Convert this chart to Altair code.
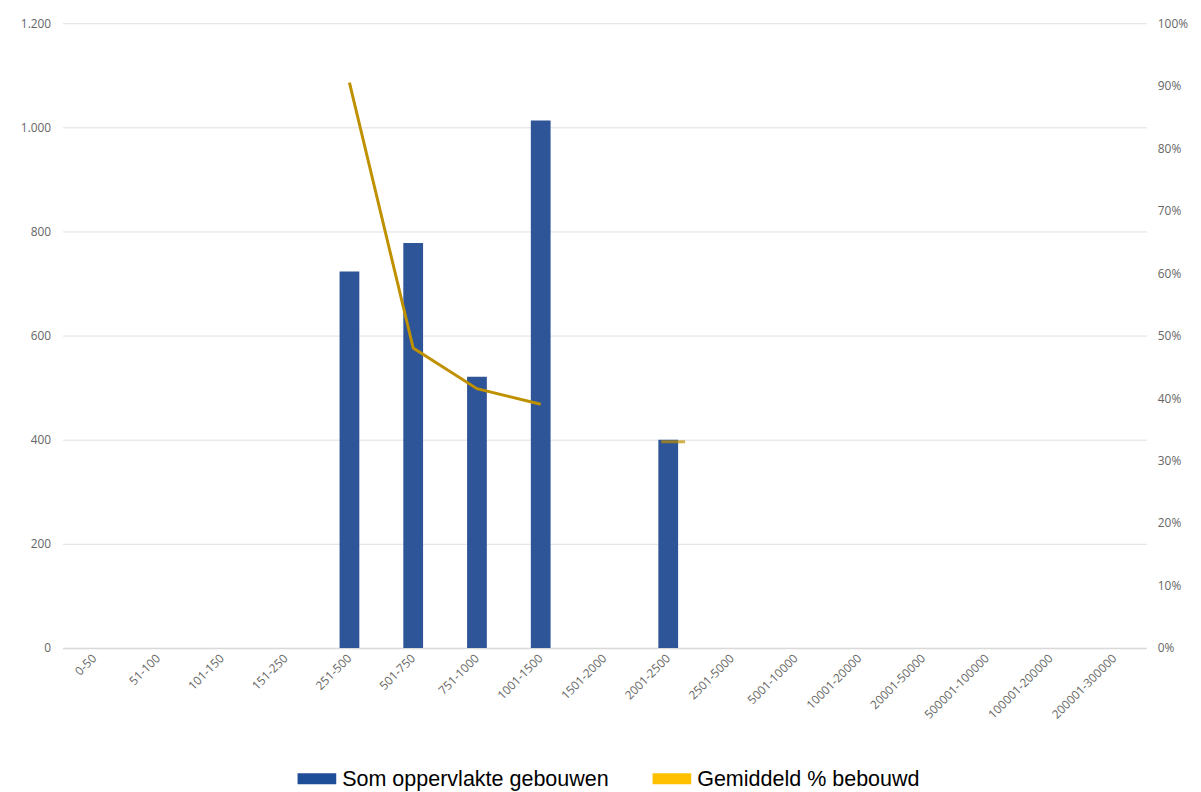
import altair as alt
import pandas as pd

categories = ["0-50", "51-100", "101-150", "151-250", "251-500", "501-750", "751-1000",
              "1001-1500", "1501-2000", "2001-2500", "2501-5000", "5001-10000",
              "10001-20000", "20001-50000", "500001-100000", "100001-200000", "200001-300000"]
area = [None, None, None, None, 723, 778, 521, 1013, None, 400, None, None, None, None, None, None, None]
pct = [None, None, None, None, 0.905, 0.48, 0.415, 0.39, None, 0.33, None, None, None, None, None, None, None]

series_names = ["Som oppervlakte gebouwen", "Gemiddeld % bebouwd"]

bars = pd.DataFrame({"cat": categories, "area": area})
bars_nn = bars.dropna(subset=["area"])

seg, segs = 0, []
prev_none = True
for v in pct:
    if v is None:
        prev_none = True
        segs.append(None)
    else:
        if prev_none:
            seg += 1
        prev_none = False
        segs.append(seg)
line = pd.DataFrame({"cat": categories, "pct": pct, "seg": segs}).dropna(subset=["pct"])
counts = line["seg"].value_counts()
line_multi = line[line["seg"].map(counts) > 1]
line_single = line[line["seg"].map(counts) == 1]

FONT = "Open Sans"
LBL = "#666666"
FS = 12

xenc = alt.X("cat:N", sort=categories, scale=alt.Scale(domain=categories, paddingInner=0.69, paddingOuter=0.345),
             axis=alt.Axis(title=None, labelAngle=-45, labelAlign="right", labelBaseline="middle",
                           labelFont=FONT, labelFontSize=FS, labelColor=LBL, ticks=False,
                           domainColor="#d9d9d9", domainWidth=1.5, labelPadding=8, labelOverlap=False))

bar_layer = alt.Chart(bars_nn).mark_bar(color="#2E5597").encode(
    x=xenc,
    y=alt.Y("area:Q", scale=alt.Scale(domain=[0, 1200]),
            axis=alt.Axis(title=None, values=[0, 200, 400, 600, 800, 1000, 1200],
                          labelExpr="replace(format(datum.value, ','), ',', '.')",
                          labelFont=FONT, labelFontSize=FS, labelColor=LBL,
                          ticks=False, domain=False, grid=True, gridColor="#e0e0e0",
                          labelPadding=12)),
)

legend_layer = alt.Chart(pd.DataFrame({"series": series_names})).mark_point(size=0, filled=True, opacity=1).encode(
    color=alt.Color("series:N", scale=alt.Scale(domain=series_names, range=["#1F4E99", "#FFC000"]),
                    legend=alt.Legend(title=None, orient="none", legendX=237, legendY=742,
                                      direction="horizontal",
                                      symbolType="M-1,-0.28H1V0.28H-1Z", symbolSize=1521,
                                      symbolStrokeWidth=0, symbolOpacity=1,
                                      labelFont="Liberation Sans", labelFontSize=21.7,
                                      labelColor="#000000", columnPadding=44, labelOffset=6,
                                      labelLimit=400)),
)

yr_axis = alt.Axis(title=None, orient="right", format=".0%",
                   values=[0, 0.1, 0.2, 0.3, 0.4, 0.5, 0.6, 0.7, 0.8, 0.9, 1.0],
                   labelFont=FONT, labelFontSize=FS, labelColor=LBL,
                   ticks=False, domain=False, grid=False, labelPadding=11)
yr = alt.Y("pct:Q", scale=alt.Scale(domain=[0, 1]), axis=yr_axis)

line_layer = alt.Chart(line_multi).mark_line(color="#BF9000", strokeWidth=3).encode(
    x=alt.X("cat:N", sort=categories), y=yr, detail="seg:N")
tick_layer = alt.Chart(line_single).mark_tick(color="#BF9000", thickness=3, size=24,
                                              orient="horizontal", xOffset=5).encode(
    x=alt.X("cat:N", sort=categories), y=yr)

right = alt.layer(line_layer, tick_layer)

chart = alt.layer(bar_layer, right, legend_layer).resolve_scale(y="independent").properties(
    width=1093, height=630, background="white",
    padding={"left": 12, "top": 6, "right": 5, "bottom": 5}
).configure_view(stroke=None)

chart.save("out.html", embed_options={"renderer": "svg", "actions": False})
